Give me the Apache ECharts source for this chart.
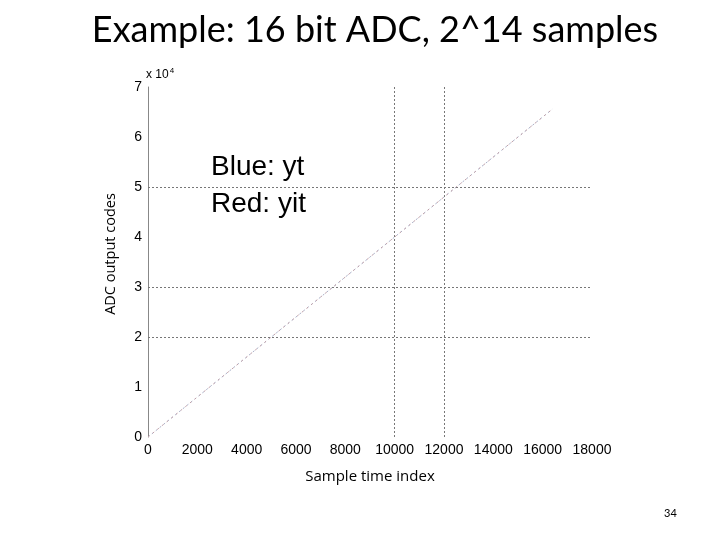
<!DOCTYPE html>
<html><head><meta charset="utf-8">
<script src="https://cdn.jsdelivr.net/npm/echarts@6/dist/echarts.min.js"></script>
<style>html,body{margin:0;padding:0;background:#fff}#c{width:720px;height:540px}</style>
</head><body><div id="c"></div>
<script>
var titleText = 'Example: 16 bit ADC, 2^14 samples';
var xName = 'Sample time index';
var yName = 'ADC output codes';
var legendLines = ['Blue: yt', 'Red: yit'];
var ytData = [[0, 0], [16384, 65535]];
var yitData = [[0, 0], [16384, 65535]];
var gridYValues = [20000, 30000, 50000];
var gridXValues = [10000, 12000];
var pageNumber = '34';

var chart = echarts.init(document.getElementById('c'));
var gridStyle = {color: '#777', type: [2, 2], width: 1};
var markData = gridYValues.map(function(v){return {yAxis: v};})
  .concat(gridXValues.map(function(v){return {xAxis: v};}));
chart.setOption({
  animation: false,
  backgroundColor: '#fff',
  title: {text: titleText, left: 370, top: 7, textAlign: 'center',
    textStyle: {fontFamily: 'Lato', fontWeight: 'normal', fontSize: 36, color: '#000'}},
  grid: {left: 148, right: 128, top: 87, bottom: 103},
  xAxis: {type: 'value', min: 0, max: 18000, interval: 2000,
    axisLine: {show: false}, axisTick: {show: false}, splitLine: {show: false},
    axisLabel: {fontFamily: 'Liberation Sans', fontSize: 14, color: '#000', margin: 6,
      formatter: function(v){return String(v);}},
    name: xName, nameLocation: 'middle', nameGap: 32,
    nameTextStyle: {fontFamily: 'Open Sans', fontSize: 15, color: '#000'}},
  yAxis: {type: 'value', min: 0, max: 70000, interval: 10000,
    axisLine: {show: true, lineStyle: {color: '#888'}}, axisTick: {show: false}, splitLine: {show: false},
    axisLabel: {fontFamily: 'Liberation Sans', fontSize: 14, color: '#000', margin: 6,
      formatter: function(v){return String(v/10000);}},
    name: yName, nameLocation: 'middle', nameGap: 30, nameRotate: 90,
    nameTextStyle: {fontFamily: 'Open Sans', fontSize: 14.5, color: '#000', padding: [0, 0, 0, 16]}},
  graphic: [
    {type: 'text', left: 146, top: 67, style: {
      text: '{a|x 10}{b|4}', rich: {a: {fontFamily: 'Liberation Sans', fontSize: 12, fill: '#000'},
        b: {fontFamily: 'Liberation Sans', fontSize: 8, fill: '#000', verticalAlign: 'top', padding: [0,0,8,1]}}}},
    {type: 'text', left: 211, top: 153, style: {text: legendLines[0], font: '28px "Liberation Sans"', fill: '#000'}},
    {type: 'text', left: 211, top: 190, style: {text: legendLines[1], font: '28px "Liberation Sans"', fill: '#000'}},
    {type: 'text', left: 664, top: 508, style: {text: pageNumber, font: '11px Lato', fill: '#000'}}
  ],
  series: [
    {name: 'yt', type: 'line', data: ytData, showSymbol: false, z: 3,
      lineStyle: {color: '#aab0c8', width: 1, type: [2, 3]},
      markLine: {silent: true, symbol: 'none', label: {show: false}, lineStyle: gridStyle, data: markData}},
    {name: 'yit', type: 'line', data: yitData, showSymbol: false, z: 4,
      lineStyle: {color: '#c0a0a8', width: 1, type: [2, 4]}}
  ]
});
</script></body></html>
